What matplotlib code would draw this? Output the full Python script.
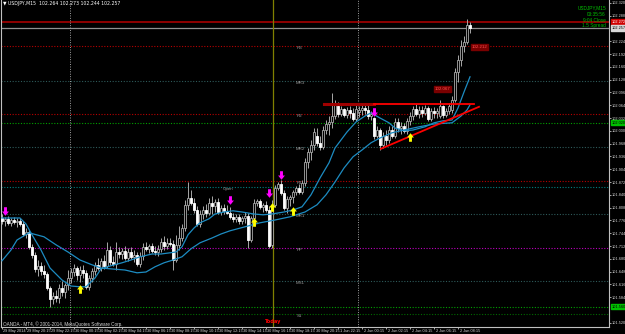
import numpy as np
import matplotlib.pyplot as plt
from matplotlib.path import Path
from matplotlib.transforms import ScaledTranslation, blended_transform_factory

# USDJPY M15, bar 0 = 29 May 18:15
opens = [
    101.782, 101.775, 101.780, 101.770, 101.777, 101.772, 101.775, 101.767, 101.742, 101.747,
    101.710, 101.690, 101.655, 101.662, 101.650, 101.642, 101.607, 101.580, 101.587, 101.582,
    101.607, 101.597, 101.615, 101.632, 101.647, 101.657, 101.640, 101.652, 101.645, 101.610,
    101.632, 101.650, 101.665, 101.657, 101.675, 101.662, 101.702, 101.672, 101.667, 101.697,
    101.692, 101.700, 101.682, 101.697, 101.685, 101.690, 101.667, 101.687, 101.710, 101.705,
    101.712, 101.700, 101.697, 101.705, 101.722, 101.712, 101.720, 101.717, 101.677, 101.715,
    101.732, 101.757, 101.815, 101.832, 101.820, 101.802, 101.767, 101.792, 101.802, 101.795,
    101.820, 101.812, 101.822, 101.797, 101.807, 101.800, 101.795, 101.785, 101.780, 101.785,
    101.775, 101.782, 101.787, 101.727, 101.782, 101.820, 101.825, 101.810, 101.815, 101.802,
    101.715, 101.815, 101.857, 101.867, 101.845, 101.807, 101.830, 101.835, 101.847, 101.857,
    101.847, 101.870, 101.922, 101.947, 101.965, 101.987, 101.970, 101.960, 102.002, 102.017,
    102.022, 102.037, 102.062, 102.042, 102.055, 102.040, 102.052, 102.045, 102.030, 102.047,
    102.052, 102.057, 102.052, 102.037, 102.032, 101.987, 102.002, 101.965, 101.987, 101.977,
    102.002, 101.987, 102.022, 102.007, 102.012, 102.000, 102.025, 102.037, 102.055, 102.042,
    102.052, 102.045, 102.057, 102.030, 102.050, 102.045, 102.037, 102.062, 102.040, 102.050,
    102.052, 102.077, 102.147, 102.177, 102.212, 102.222, 102.264]
highs = [
    101.792, 101.785, 101.787, 101.782, 101.785, 101.782, 101.782, 101.775, 101.757, 101.752,
    101.717, 101.697, 101.677, 101.672, 101.665, 101.647, 101.612, 101.597, 101.602, 101.617,
    101.625, 101.620, 101.652, 101.657, 101.667, 101.662, 101.662, 101.665, 101.652, 101.640,
    101.657, 101.672, 101.682, 101.682, 101.690, 101.722, 101.712, 101.687, 101.722, 101.710,
    101.707, 101.712, 101.707, 101.710, 101.702, 101.697, 101.697, 101.720, 101.722, 101.717,
    101.720, 101.712, 101.715, 101.732, 101.737, 101.732, 101.732, 101.727, 101.740, 101.762,
    101.767, 101.827, 101.872, 101.852, 101.832, 101.812, 101.802, 101.812, 101.817, 101.832,
    101.837, 101.830, 101.832, 101.815, 101.817, 101.815, 101.810, 101.795, 101.792, 101.792,
    101.787, 101.797, 101.795, 101.787, 101.830, 101.830, 101.830, 101.820, 101.825, 101.812,
    101.827, 101.865, 101.872, 101.877, 101.852, 101.837, 101.840, 101.852, 101.862, 101.867,
    101.877, 101.932, 101.957, 101.977, 102.007, 102.007, 101.987, 102.012, 102.027, 102.037,
    102.095, 102.077, 102.072, 102.062, 102.057, 102.060, 102.062, 102.057, 102.065, 102.062,
    102.065, 102.067, 102.065, 102.050, 102.035, 102.012, 102.007, 101.997, 102.002, 102.012,
    102.012, 102.032, 102.032, 102.022, 102.020, 102.032, 102.047, 102.062, 102.067, 102.062,
    102.062, 102.065, 102.062, 102.057, 102.060, 102.057, 102.077, 102.065, 102.057, 102.070,
    102.087, 102.157, 102.190, 102.227, 102.237, 102.280, 102.273]
lows = [
    101.767, 101.762, 101.765, 101.762, 101.767, 101.760, 101.762, 101.737, 101.732, 101.705,
    101.682, 101.647, 101.637, 101.640, 101.632, 101.602, 101.560, 101.567, 101.572, 101.570,
    101.587, 101.582, 101.602, 101.620, 101.637, 101.627, 101.622, 101.632, 101.605, 101.602,
    101.622, 101.640, 101.652, 101.650, 101.655, 101.657, 101.665, 101.662, 101.652, 101.682,
    101.680, 101.677, 101.675, 101.680, 101.672, 101.662, 101.660, 101.677, 101.700, 101.695,
    101.695, 101.690, 101.687, 101.697, 101.702, 101.705, 101.712, 101.652, 101.672, 101.702,
    101.725, 101.750, 101.802, 101.815, 101.795, 101.762, 101.760, 101.780, 101.785, 101.790,
    101.792, 101.797, 101.792, 101.790, 101.792, 101.792, 101.780, 101.772, 101.772, 101.767,
    101.767, 101.770, 101.707, 101.722, 101.777, 101.812, 101.805, 101.797, 101.797, 101.707,
    101.707, 101.810, 101.852, 101.840, 101.802, 101.795, 101.812, 101.820, 101.840, 101.842,
    101.842, 101.862, 101.907, 101.927, 101.952, 101.962, 101.952, 101.955, 101.992, 101.990,
    102.007, 102.030, 102.035, 102.037, 102.035, 102.032, 102.032, 102.025, 102.025, 102.035,
    102.040, 102.042, 102.030, 102.027, 101.980, 101.982, 101.952, 101.957, 101.965, 101.970,
    101.982, 101.982, 101.997, 101.992, 101.995, 101.992, 102.015, 102.027, 102.037, 102.032,
    102.035, 102.040, 102.025, 102.025, 102.032, 102.032, 102.032, 102.032, 102.035, 102.042,
    102.045, 102.072, 102.122, 102.162, 102.197, 102.217, 102.244]
closes = [
    101.775, 101.780, 101.770, 101.777, 101.772, 101.775, 101.767, 101.742, 101.747, 101.710,
    101.690, 101.655, 101.662, 101.650, 101.642, 101.607, 101.580, 101.587, 101.582, 101.607,
    101.597, 101.615, 101.632, 101.647, 101.657, 101.640, 101.652, 101.645, 101.610, 101.632,
    101.650, 101.665, 101.657, 101.675, 101.662, 101.702, 101.672, 101.667, 101.697, 101.692,
    101.700, 101.682, 101.697, 101.685, 101.690, 101.667, 101.687, 101.710, 101.705, 101.712,
    101.700, 101.697, 101.705, 101.722, 101.712, 101.720, 101.717, 101.677, 101.715, 101.732,
    101.757, 101.815, 101.832, 101.820, 101.802, 101.767, 101.792, 101.802, 101.795, 101.820,
    101.812, 101.822, 101.797, 101.807, 101.800, 101.795, 101.785, 101.780, 101.785, 101.775,
    101.782, 101.787, 101.727, 101.782, 101.820, 101.825, 101.810, 101.815, 101.802, 101.712,
    101.815, 101.857, 101.867, 101.845, 101.807, 101.830, 101.835, 101.847, 101.857, 101.847,
    101.870, 101.922, 101.947, 101.965, 101.997, 101.970, 101.960, 102.002, 102.017, 102.022,
    102.037, 102.067, 102.042, 102.055, 102.040, 102.052, 102.045, 102.030, 102.055, 102.052,
    102.057, 102.052, 102.037, 102.042, 101.987, 102.002, 101.965, 101.987, 101.977, 102.002,
    101.987, 102.022, 102.007, 102.012, 102.000, 102.025, 102.037, 102.055, 102.042, 102.052,
    102.045, 102.057, 102.030, 102.050, 102.045, 102.050, 102.062, 102.040, 102.050, 102.062,
    102.077, 102.147, 102.177, 102.212, 102.222, 102.264, 102.257]

# moving averages, read at some bars
fast_ma_bars = [0, 6, 8, 10, 13, 16, 20, 23, 26, 28, 31, 33, 36, 40, 43, 46, 50, 53, 56, 58,
                60, 62, 64, 66, 69, 71, 74, 77, 80, 84, 87, 90, 94, 97, 100, 103, 106, 109, 111, 115,
                118, 121, 123, 126, 129, 131, 134, 137, 141, 144, 147, 150, 152, 154, 156]
fast_ma = [101.782, 101.782, 101.767, 101.740, 101.702, 101.657, 101.627, 101.612, 101.610, 101.610,
           101.632, 101.655, 101.662, 101.670, 101.677, 101.685, 101.692, 101.692, 101.695, 101.697,
           101.710, 101.740, 101.757, 101.770, 101.780, 101.792, 101.797, 101.800, 101.797, 101.792,
           101.790, 101.792, 101.797, 101.802, 101.810, 101.840, 101.882, 101.920, 101.957, 101.997,
           102.022, 102.037, 102.045, 102.032, 102.020, 102.007, 102.000, 102.002, 102.010, 102.020,
           102.025, 102.027, 102.057, 102.097, 102.135]
slow_ma_bars = [0, 3, 5, 9, 14, 18, 22, 26, 30, 33, 36, 41, 45, 48, 51, 54, 57, 60, 63, 66,
                70, 73, 76, 81, 86, 91, 96, 101, 105, 108, 111, 114, 117, 120, 123, 126, 130, 134, 139, 144,
                150, 153, 155, 156]
slow_ma = [101.675, 101.702, 101.727, 101.745, 101.735, 101.715, 101.697, 101.677, 101.665, 101.657,
           101.655, 101.652, 101.645, 101.647, 101.660, 101.670, 101.677, 101.685, 101.705, 101.720,
           101.732, 101.742, 101.750, 101.760, 101.770, 101.777, 101.785, 101.797, 101.815, 101.840,
           101.872, 101.907, 101.935, 101.952, 101.970, 101.982, 101.995, 102.002, 102.010, 102.017,
           102.020, 102.037, 102.052, 102.065]

# signal arrows
sell_bars = [1, 76, 89, 93, 124]
sell_prices = [101.800, 101.827, 101.845, 101.890, 102.047]
buy_bars = [26, 84, 90, 97, 136]
buy_prices = [101.605, 101.772, 101.810, 101.800, 101.985]

# pivot levels
level_names = ['R3', 'MR3', 'R2', 'MR2', 'R1', 'MR1', 'PP', 'MS1', 'S1']
level_prices = [102.212, 102.125, 102.042, 101.960, 101.875, 101.792, 101.707, 101.625, 101.542]
level_colors = ['#b80000', '#2e5a5a', '#b80000', '#2e5a5a', '#b80000', '#2e5a5a', '#c000c0',
                '#2e5a5a', '#006a00']
open_price = 101.860
green_levels = [102.020, 101.560]
day_high_line = 102.272
bid = 102.257
quote = (102.264, 102.273, 102.244, 102.257)

# drawn objects
resist_price = 102.067
resist_bars = (107.3, 124.0, 157.3)
trend_bars = (126.3, 159.0)
trend_prices = (101.955, 102.060)

day_start_bars = [23, 119]
today_bar = 90

price_ticks = [102.320, 102.288, 102.224, 102.192, 102.160, 102.128, 102.096, 102.064, 102.032,
               102.000, 101.968, 101.936, 101.904, 101.872, 101.840, 101.808, 101.776, 101.744,
               101.712, 101.680, 101.648, 101.616, 101.584, 101.520]
time_tick_bars = list(range(0, 153, 8))
time_labels = ['29 May 2014', '29 May 20:15', '29 May 22:15', '30 May 00:15', '30 May 02:15',
               '30 May 04:15', '30 May 06:15', '30 May 08:15', '30 May 10:15', '30 May 12:15',
               '30 May 14:15', '30 May 16:15', '30 May 18:15', '30 May 20:15', '1 Jun 22:15',
               '2 Jun 00:15', '2 Jun 02:15', '2 Jun 04:15', '2 Jun 06:15', '2 Jun 08:15']

FS = 2.8
SMALL = ['Liberation Sans Narrow', 'Liberation Sans']
GRAY = '#c0c0c0'

fig = plt.figure(figsize=(6.25, 3.34), dpi=100, facecolor='black')
ax = fig.add_axes([1 / 625, 7 / 334, 608 / 625, 327 / 334])
ax.set_facecolor('black')
ax.set_xlim(-0.33, 202.33)
ax.set_ylim(101.5095, 102.327)

# horizontal levels
for p, col in zip(level_prices, level_colors):
    ax.axhline(p, color=col, lw=0.8, ls=(0, (1, 1.5)), zorder=1)
ax.axhline(open_price, color='#008080', lw=0.8, ls=(0, (1, 1.5)), zorder=1)
for p in green_levels:
    ax.axhline(p, color='#00a000', lw=0.8, ls=(0, (1, 1.5)), zorder=1)
ax.axhline(day_high_line, color='#9a0000', lw=1.3, zorder=1)
ax.axhline(bid, color='#909090', lw=0.9, zorder=1)

for b in day_start_bars:
    ax.axvline(b - 0.45, color='#a0a0a0', lw=0.7, ls=(0, (1, 1.5)), zorder=1)
ax.axvline(today_bar + 0.35, color='#808000', lw=0.9, zorder=2)

for name, p in zip(level_names, level_prices):
    ax.text(99.3, p - 0.006, name, color='#9a9a9a', fontsize=3.2, family=SMALL,
            ha='center', va='center', zorder=2)
ax.text(75.3, open_price - 0.006, 'Open', color='#9a9a9a', fontsize=3.2, family=SMALL,
        ha='center', va='center', zorder=2)

# candles
o, h, l, c = (np.array(a) for a in (opens, highs, lows, closes))
idx = np.arange(len(c))
up = c >= o
ax.vlines(idx, l, h, color='#a8a8a8', lw=0.7, zorder=3)
lo = np.minimum(o, c)
ht = np.maximum(np.abs(c - o), 0.0012)
ax.bar(idx[up], ht[up], bottom=lo[up], width=0.62, color='black', edgecolor='#a8a8a8', lw=0.6, zorder=4)
ax.bar(idx[~up], ht[~up], bottom=lo[~up], width=0.62, color='white', edgecolor='white', lw=0.6, zorder=4)

# moving averages
ax.plot(fast_ma_bars, fast_ma, color='#1d8cc2', lw=0.9, zorder=5)
ax.plot(slow_ma_bars, slow_ma, color='#1d8cc2', lw=0.9, zorder=5)

# arrows
down_arrow = Path([(-0.17, 0.5), (0.17, 0.5), (0.17, 0.0), (0.4, 0.0), (0.0, -0.5),
                   (-0.4, 0.0), (-0.17, 0.0), (-0.17, 0.5)], closed=True)
up_arrow = Path([(x, -y) for x, y in down_arrow.vertices], closed=True)
ax.scatter(sell_bars, sell_prices, marker=down_arrow, s=38, color='#ff00ff', lw=0, zorder=6)
ax.scatter(buy_bars, buy_prices, marker=up_arrow, s=38, color='#ffff00', lw=0, zorder=6)

# drawn objects
ax.plot(resist_bars[:2], [resist_price] * 2, color='#a00000', lw=2.2, zorder=5)
ax.plot(resist_bars[1:], [resist_price] * 2, color='#ff0000', lw=1.3, zorder=5)
ax.plot(trend_bars, trend_prices, color='#ff0000', lw=1.3, zorder=5)
box = dict(facecolor='#7a0000', edgecolor='#7a0000', pad=0.6)
ax.text(144.3, resist_price + 0.037, f'{resist_price:.3f}', color='#ff5050', fontsize=3.2,
        family=SMALL, va='center', ha='left', bbox=box, zorder=7)
ax.text(156.6, level_prices[0] - 0.002, f'{level_prices[0]:.3f}', color='#ff5050', fontsize=3.2,
        family=SMALL, va='center', ha='left', bbox=box, zorder=7)

# axes styling
ax.spines['top'].set_visible(False)
for s in ('left', 'right', 'bottom'):
    ax.spines[s].set_color(GRAY)
    ax.spines[s].set_linewidth(0.8)
ax.yaxis.tick_right()
ax.set_yticks(price_ticks)
ax.set_yticklabels([f'{v:.3f}' for v in price_ticks], family=SMALL)
ax.tick_params(axis='y', length=1.5, width=0.6, color=GRAY, labelsize=FS, labelcolor='#d8d8d8', pad=0.6)
ax.set_xticks(time_tick_bars)
ax.set_xticklabels(time_labels, family=SMALL)
ax.tick_params(axis='x', length=1.5, width=0.6, color=GRAY, labelsize=FS, labelcolor='#d8d8d8', pad=0)
shift = ScaledTranslation(1.5 / 100, 0, fig.dpi_scale_trans)
for lbl in ax.get_xticklabels():
    lbl.set_ha('left')
    lbl.set_transform(lbl.get_transform() + shift)

# price boxes on the right axis
tr = blended_transform_factory(ax.transAxes, ax.transData)


def price_box(p, fc, tc):
    ax.text(1.004, p, f'{p:.3f}', transform=tr, color=tc, fontsize=FS, family=SMALL,
            ha='left', va='center', bbox=dict(facecolor=fc, edgecolor=fc, pad=0.4),
            zorder=8, clip_on=False)


price_box(day_high_line, '#d00000', 'white')
price_box(bid, '#d8d8d8', 'black')
for p in green_levels:
    price_box(p, '#00c000', 'black')

# texts
ax.text(0.004, 1 - 4 / 327, '\u25bc USDJPY,M15  ' + ' '.join(f'{v:.3f}' for v in quote),
        transform=ax.transAxes, color='white', fontsize=3.3, va='center', ha='left')
info = ['USDJPY,M15', '03:35:56', '9:04 Close', '1.5 Spread']
for k, t in enumerate(info):
    ax.text(0.995, 1 - (8 + 6 * k) / 327, t, transform=ax.transAxes, color='#00c000',
            fontsize=3.4, family=SMALL, ha='right', va='center')
ax.text(0.004, 3 / 327, 'OANDA - MT4, \u00a9 2001-2014, MetaQuotes Software Corp.',
        transform=ax.transAxes, color='#d8d8d8', fontsize=3.3, family=SMALL, ha='left', va='center')
ax.text(today_bar + 0.35, 6 / 327, 'Today', transform=blended_transform_factory(ax.transData, ax.transAxes),
        color='#ff0000', fontsize=3.6, ha='center', va='center', fontweight='bold')

fig.savefig('out.png', dpi=100, facecolor='black')
